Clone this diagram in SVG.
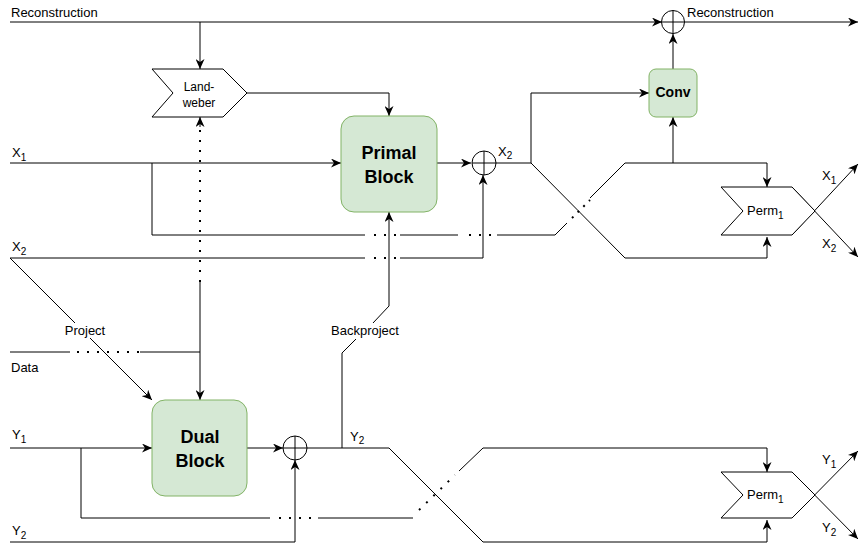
<svg xmlns="http://www.w3.org/2000/svg" width="862" height="544" viewBox="0 0 862 544">
<style>
.ln{fill:none;stroke:#000;stroke-width:1}
.dot{fill:none;stroke:#000;stroke-width:2;stroke-dasharray:2 8}
.dot2{fill:none;stroke:#000;stroke-width:2;stroke-dasharray:2 6}
.blk{fill:#d5e8d4;stroke:#82b366;stroke-width:1}
.shp{fill:#fff;stroke:#000;stroke-width:1}
.t{font-family:"Liberation Sans",Arial,Helvetica,sans-serif;font-size:13px;fill:#000}
.s{font-size:10px}
.b{font-family:"Liberation Sans",Arial,Helvetica,sans-serif;font-weight:bold;fill:#000;text-anchor:middle}
</style>
<defs>
<marker id="arr" viewBox="0 0 10 9" refX="10" refY="4.5" markerWidth="10" markerHeight="9" markerUnits="userSpaceOnUse" orient="auto">
<path d="M0,0 L10,4.5 L0,9 L3,4.5 z" fill="#000"/>
</marker>
</defs>

<g id="connectors">
<path class="ln" d="M10,22 H662" marker-end="url(#arr)"/>
<path class="ln" d="M685,22 H858" marker-end="url(#arr)"/>
<path class="ln" d="M200,22 V69" marker-end="url(#arr)"/>
<path class="ln" d="M247,93 H389 V116" marker-end="url(#arr)"/>
<path class="ln" d="M200,352 V282"/>
<path class="dot" d="M200,282 V124"/>
<path class="ln" d="M200,127 V117" marker-end="url(#arr)"/>
<path class="ln" d="M10,352 H70"/>
<path class="dot" d="M77,352 H140"/>
<path class="ln" d="M140,352 H200 V400" marker-end="url(#arr)"/>
<path class="ln" d="M10,163 H341" marker-end="url(#arr)"/>
<path class="ln" d="M152,163 V235 H365"/>
<path class="dot" d="M374,235 H398"/>
<path class="ln" d="M400,235 H458"/>
<path class="dot" d="M469,235 H493"/>
<path class="ln" d="M497,235 H555 L567,223"/>
<path class="dot2" d="M572,218 L590,200"/>
<path class="ln" d="M590,198 L625,163 H767 V187" marker-end="url(#arr)"/>
<path class="ln" d="M673,163 V117" marker-end="url(#arr)"/>
<path class="ln" d="M10,258 H365"/>
<path class="dot" d="M374,258 H398"/>
<path class="ln" d="M400,258 H483 V175" marker-end="url(#arr)"/>
<path class="ln" d="M437,163 H471" marker-end="url(#arr)"/>
<path class="ln" d="M496,163 H531 L625,258 H767 V237" marker-end="url(#arr)"/>
<path class="ln" d="M531,163 V93 H649" marker-end="url(#arr)"/>
<path class="ln" d="M673,69 V34" marker-end="url(#arr)"/>
<path class="ln" d="M792,235 L858,164" marker-end="url(#arr)"/>
<path class="ln" d="M792,187 L858,257" marker-end="url(#arr)"/>
<path class="ln" d="M10,258 L75,323"/>
<path class="ln" d="M90,338 L152,400" marker-end="url(#arr)"/>
<path class="ln" d="M342,448 V353 L356,339"/>
<path class="ln" d="M373,323 L389,306 V212" marker-end="url(#arr)"/>
<path class="ln" d="M10,448 H152" marker-end="url(#arr)"/>
<path class="ln" d="M81,448 V518 H270"/>
<path class="dot" d="M279,518 H312"/>
<path class="ln" d="M318,518 H413"/>
<path class="dot" d="M419,510 L455,475"/>
<path class="ln" d="M459,471 L483,448 H767 V472" marker-end="url(#arr)"/>
<path class="ln" d="M247,448 H283" marker-end="url(#arr)"/>
<path class="ln" d="M307,448 H389 L483,542 H767 V520" marker-end="url(#arr)"/>
<path class="ln" d="M10,542 H295 V460" marker-end="url(#arr)"/>
<path class="ln" d="M792,518 L858,451" marker-end="url(#arr)"/>
<path class="ln" d="M792,472 L858,539" marker-end="url(#arr)"/>
</g>

<g id="landweber">
<path class="shp" d="M152,69 H223 L247,93 L223,117 H152 L173,93 z"/>
<text class="t" x="199" y="91" text-anchor="middle" style="font-size:12px">Land-</text>
<text class="t" x="199" y="107" text-anchor="middle" style="font-size:12px">weber</text>
</g>

<g id="primal">
<rect class="blk" x="341" y="116" width="96" height="96" rx="13"/>
<text class="b" x="389" y="159" font-size="18">Primal</text>
<text class="b" x="389" y="183" font-size="18">Block</text>
</g>

<g id="dual">
<rect class="blk" x="152" y="400" width="95" height="96" rx="13"/>
<text class="b" x="200" y="443" font-size="18">Dual</text>
<text class="b" x="200" y="467" font-size="18">Block</text>
</g>

<g id="conv">
<rect class="blk" x="649" y="69" width="48" height="48" rx="7"/>
<text class="b" x="673" y="97" font-size="14">Conv</text>
</g>

<g id="sum-top">
<circle class="shp" cx="673" cy="22" r="11.5"/>
<path class="ln" d="M661.5,22 H684.5 M673,10.5 V33.5"/>
</g>
<g id="sum-primal">
<circle class="shp" cx="484" cy="163" r="12"/>
<path class="ln" d="M472,163 H496 M484,151 V175"/>
</g>
<g id="sum-dual">
<circle class="shp" cx="295" cy="448" r="12"/>
<path class="ln" d="M283,448 H307 M295,436 V460"/>
</g>

<g id="perm1">
<path class="shp" d="M721,187 H792 L815,211 L792,235 H721 L743,211 z"/>
<text class="t" x="747" y="215">Perm<tspan class="s" dy="4">1</tspan></text>
</g>
<g id="perm2">
<path class="shp" d="M721,472 H792 L815,495 L792,518 H721 L743,495 z"/>
<text class="t" x="747" y="499">Perm<tspan class="s" dy="4">1</tspan></text>
</g>

<g id="labels">
<text class="t" x="11" y="17">Reconstruction</text>
<text class="t" x="687" y="17">Reconstruction</text>
<text class="t" x="12" y="157">X<tspan class="s" dy="4">1</tspan></text>
<text class="t" x="12" y="251">X<tspan class="s" dy="4">2</tspan></text>
<text class="t" x="498" y="156">X<tspan class="s" dy="3">2</tspan></text>
<text class="t" x="822" y="180">X<tspan class="s" dy="4">1</tspan></text>
<text class="t" x="822" y="248">X<tspan class="s" dy="4">2</tspan></text>
<text class="t" x="85" y="335" text-anchor="middle">Project</text>
<text class="t" x="11" y="372">Data</text>
<text class="t" x="365" y="335" text-anchor="middle">Backproject</text>
<text class="t" x="12" y="439">Y<tspan class="s" dy="4">1</tspan></text>
<text class="t" x="12" y="535">Y<tspan class="s" dy="4">2</tspan></text>
<text class="t" x="350" y="441">Y<tspan class="s" dy="3">2</tspan></text>
<text class="t" x="822" y="464">Y<tspan class="s" dy="4">1</tspan></text>
<text class="t" x="822" y="532">Y<tspan class="s" dy="4">2</tspan></text>
</g>
</svg>
